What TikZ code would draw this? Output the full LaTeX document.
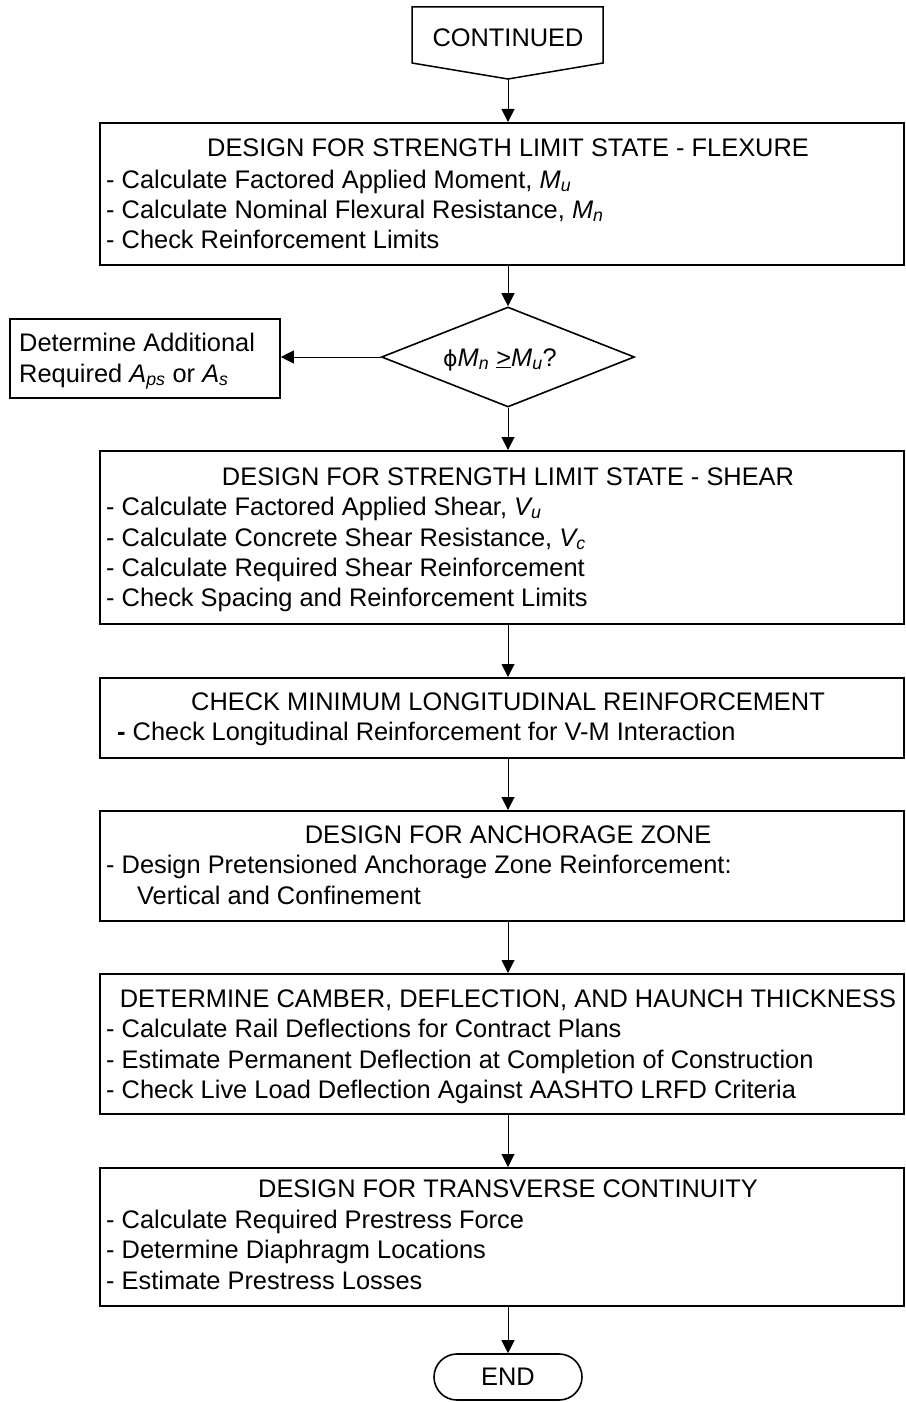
\documentclass[tikz,border=0pt]{standalone}
\usepackage{fontspec}
\setmainfont{Liberation Sans}
\newfontfamily\phifont{DejaVu Sans}
\usetikzlibrary{arrows.meta,shapes.geometric}
\begin{document}
\begin{tikzpicture}[x=1pt,y=-1pt,
  every node/.style={font=\fontsize{25.4}{30}\selectfont, inner sep=0pt, text=black},
  boxst/.style={draw, line width=1.8pt, rectangle, anchor=north west},
  ln/.style={anchor=base west},
  ttl/.style={anchor=base},
  arr/.style={-{Triangle[length=13pt,width=13pt]}, line width=1pt}]
\useasboundingbox (0,0) rectangle (905,1402);

% CONTINUED off-page connector
\node[ttl] (contt) at (508,47) {CONTINUED};
\draw[line width=1.5pt] (412,7) -- (603,7) -- (603,63) -- (508,79) -- (412,63) -- cycle;
\coordinate (conttip) at (508,79);

% Box 1
\node[boxst, minimum width=804pt, minimum height=142pt] (b1) at (99,122) {};
\node[ttl] (b1t) at (508,156) {DESIGN FOR STRENGTH LIMIT STATE - FLEXURE};
\node[ln] (b1a) at (106,188) {- Calculate Factored Applied Moment, \textit{M\textsubscript{u}}};
\node[ln] (b1b) at (106,218) {- Calculate Nominal Flexural Resistance, \textit{M\textsubscript{n}}};
\node[ln] (b1c) at (106,248) {- Check Reinforcement Limits};

% Decision
\node[draw, diamond, line width=1.6pt, aspect=2.53, minimum width=253pt, minimum height=100pt] (d) at (508,357) {};
\node[ttl] (dt) at (500,366) {{\phifont\fontsize{22}{26}\selectfont ϕ}\textit{M\textsubscript{n}} \underline{>}\textit{M\textsubscript{u}}?};

% Left box
\node[boxst, minimum width=270pt, minimum height=79pt] (lb) at (9,318) {};
\node[ln] (lba) at (19,351) {Determine Additional};
\node[ln] (lbb) at (19,382) {Required \textit{A\textsubscript{ps}} or \textit{A\textsubscript{s}}};

% Box 2
\node[boxst, minimum width=804pt, minimum height=173pt] (b2) at (99,450) {};
\node[ttl] (b2t) at (508,485) {DESIGN FOR STRENGTH LIMIT STATE - SHEAR};
\node[ln] (b2a) at (106,515) {- Calculate Factored Applied Shear, \textit{V\textsubscript{u}}};
\node[ln] (b2b) at (106,546) {- Calculate Concrete Shear Resistance, \textit{V\textsubscript{c}}};
\node[ln] (b2c) at (106,576) {- Calculate Required Shear Reinforcement};
\node[ln] (b2d) at (106,606) {- Check Spacing and Reinforcement Limits};

% Box 3
\node[boxst, minimum width=804pt, minimum height=80pt] (b3) at (99,677) {};
\node[ttl] (b3t) at (508,710) {CHECK MINIMUM LONGITUDINAL REINFORCEMENT};
\node[ln] (b3a) at (117,740) {\textbf{-} Check Longitudinal Reinforcement for V-M Interaction};

% Box 4
\node[boxst, minimum width=804pt, minimum height=110pt] (b4) at (99,810) {};
\node[ttl] (b4t) at (508,843) {DESIGN FOR ANCHORAGE ZONE};
\node[ln] (b4a) at (106,873) {- Design Pretensioned Anchorage Zone Reinforcement:};
\node[ln] (b4b) at (137,904) {Vertical and Confinement};

% Box 5
\node[boxst, minimum width=804pt, minimum height=140pt] (b5) at (99,973) {};
\node[ttl] (b5t) at (508,1007) {DETERMINE CAMBER, DEFLECTION, AND HAUNCH THICKNESS};
\node[ln] (b5a) at (106,1037) {- Calculate Rail Deflections for Contract Plans};
\node[ln] (b5b) at (106,1068) {- Estimate Permanent Deflection at Completion of Construction};
\node[ln] (b5c) at (106,1098) {- Check Live Load Deflection Against AASHTO LRFD Criteria};

% Box 6
\node[boxst, minimum width=804pt, minimum height=138pt] (b6) at (99,1167) {};
\node[ttl] (b6t) at (508,1197) {DESIGN FOR TRANSVERSE CONTINUITY};
\node[ln] (b6a) at (106,1228) {- Calculate Required Prestress Force};
\node[ln] (b6b) at (106,1258) {- Determine Diaphragm Locations};
\node[ln] (b6c) at (106,1289) {- Estimate Prestress Losses};

% END
\node[draw, rounded corners=23pt, line width=1.6pt, minimum width=148pt, minimum height=46pt] (end) at (508,1377) {END};

% Connectors
\draw[arr] (conttip) -- (conttip |- b1.north);
\draw[arr] (b1.south -| d.north) -- (d.north);
\draw[arr] (d.west) -- (lb.east |- d.west);
\draw[arr] (d.south) -- (d.south |- b2.north);
\draw[arr] (b2.south -| d.south) -- (b3.north -| d.south);
\draw[arr] (b3.south -| d.south) -- (b4.north -| d.south);
\draw[arr] (b4.south -| d.south) -- (b5.north -| d.south);
\draw[arr] (b5.south -| d.south) -- (b6.north -| d.south);
\draw[arr] (b6.south -| end.north) -- (end.north);
\end{tikzpicture}
\end{document}
